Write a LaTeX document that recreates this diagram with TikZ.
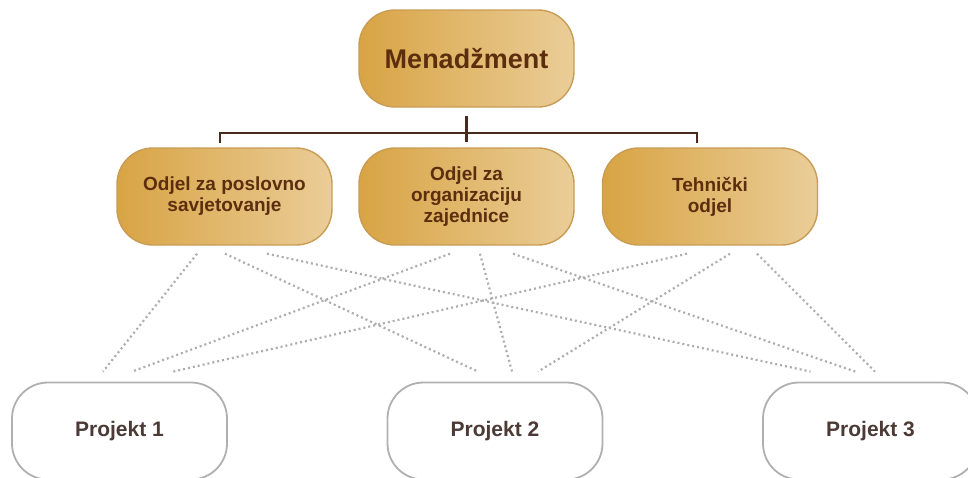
\documentclass[tikz,border=0pt]{standalone}
\usepackage{fontspec}
\setmainfont{Liberation Sans}
\definecolor{goldL}{HTML}{D8A444}
\definecolor{goldR}{HTML}{EACD98}
\definecolor{goldEdge}{HTML}{C99C55}
\definecolor{brownTxt}{HTML}{5C2E0E}
\definecolor{brownLine}{HTML}{4A2A1C}
\definecolor{greyEdge}{HTML}{B0B0B0}
\definecolor{greyDot}{HTML}{ADADAD}
\definecolor{projTxt}{HTML}{4B3A36}
\tikzset{
  boxbase/.style={rounded corners=36pt, minimum width=215pt, minimum height=97pt,
    align=center, inner sep=0pt, font=\bfseries\fontsize{19}{21}\selectfont},
  dept/.style={boxbase, draw=goldEdge, line width=1.4pt, left color=goldL, right color=goldR, text=brownTxt},
  proj/.style={boxbase, draw=greyEdge, line width=1.8pt, fill=white, text=projTxt,
    font=\bfseries\fontsize{21}{24}\selectfont},
  tree/.style={brownLine, line width=2.6pt},
  link/.style={greyDot, line width=2.2pt, dash pattern=on 2pt off 3pt},
}

\begin{document}
\begin{tikzpicture}[x=1pt, y=-1pt]
\useasboundingbox (0,0) rectangle (968,477);
% top and departments
\node[dept, font=\bfseries\fontsize{27}{30}\selectfont] (mgmt) at (466.5,58.5) {Menadžment};
\node[dept] (dep1) at (224.5,196.5) {Odjel za poslovno\\savjetovanje};
\node[dept] (dep2) at (466.5,196.5) {Odjel za\\organizaciju\\zajednice};
\node[dept] (dep3) at (710,196.5) {Tehnički\\odjel};
% projects
\node[proj] (pro1) at (119.5,431) {Projekt 1};
\node[proj] (pro2) at (495,431) {Projekt 2};
\node[proj] (pro3) at (870.5,431) {Projekt 3};
%
\coordinate (busL) at (220,133);
\coordinate (busR) at (697,133);
\draw[tree] ([yshift=-8pt]mgmt.south) -- ([yshift=5pt]dep2.north);
\draw[tree] ([yshift=-10pt]busL) -- (busL) -- (busR) -- ([yshift=-10pt]busR);
%
\foreach \src/\dx/\dst/\px in {dep1/-27.5/pro1/-16.5, dep1/0.5/pro2/-17, dep1/42.5/pro3/-60,
  dep2/-16.5/pro1/12.5, dep2/13.5/pro2/17, dep2/46.5/pro3/-15,
  dep3/-23/pro1/53.5, dep3/20/pro2/43, dep3/47/pro3/4.5}
  \draw[link] ([xshift=\dx pt, yshift=-8pt]\src.south) -- ([xshift=\px pt, yshift=10pt]\dst.north);
\end{tikzpicture}
\end{document}
